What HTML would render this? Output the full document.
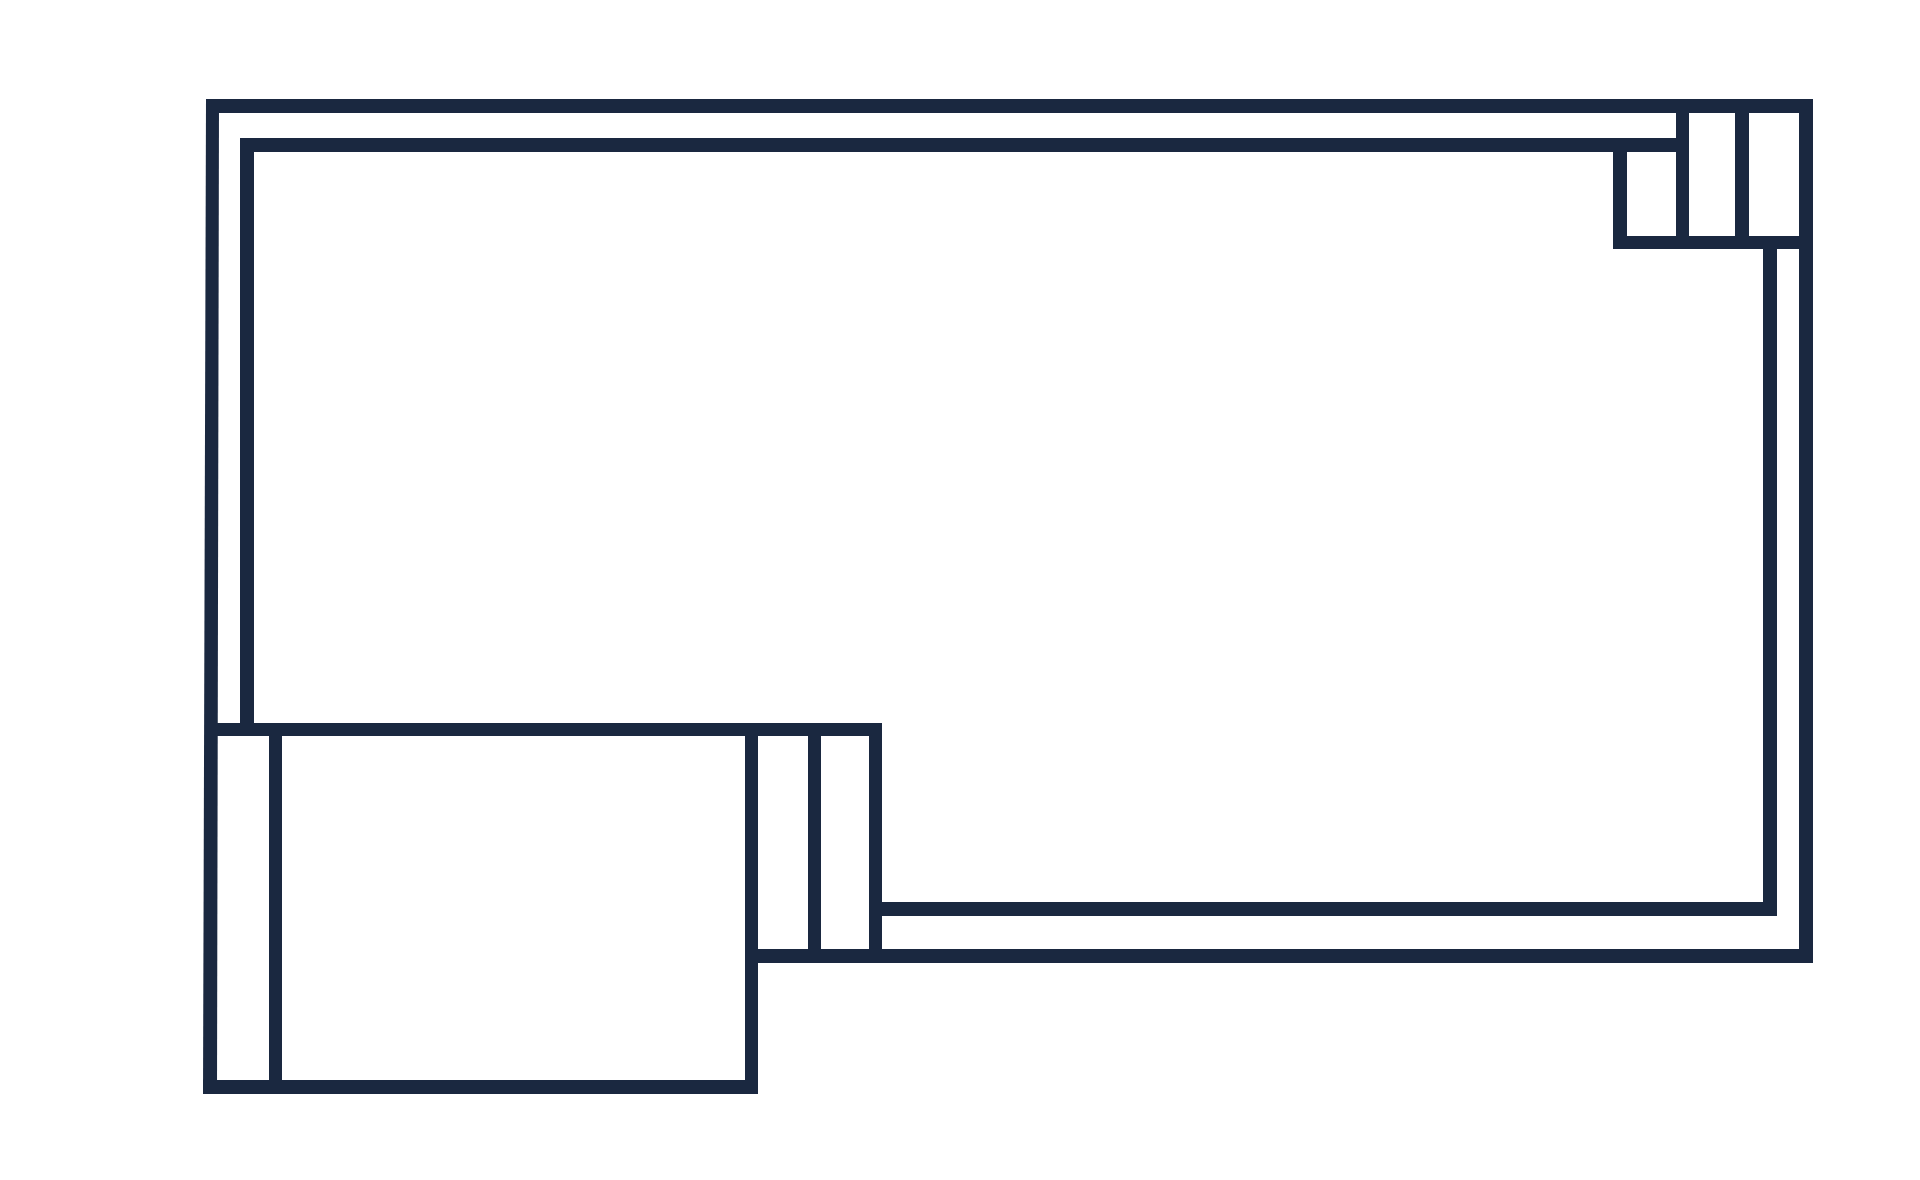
<!DOCTYPE html>
<html><head><meta charset="utf-8"><style>html,body{margin:0;padding:0;background:#fff;}svg{display:block}</style></head>
<body>
<svg width="1920" height="1180" viewBox="0 0 1920 1180" xmlns="http://www.w3.org/2000/svg">
<rect width="1920" height="1180" fill="#fff"/>
<g fill="#1a2840">
<rect x="206" y="99" width="1607" height="14"/>
<rect x="1799" y="99" width="14" height="864"/>
<polygon points="206,99 219,99 217,1094 203,1094"/>
<rect x="240" y="138" width="1449" height="14"/>
<rect x="240" y="138" width="14" height="598"/>
<rect x="1676" y="99" width="13" height="150"/>
<rect x="1735" y="99" width="14" height="150"/>
<rect x="1613" y="138" width="14" height="111"/>
<rect x="1613" y="236" width="200" height="13"/>
<rect x="1763" y="236" width="14" height="680"/>
<rect x="869" y="902" width="908" height="14"/>
<rect x="210" y="723" width="672" height="13"/>
<rect x="869" y="723" width="13" height="240"/>
<rect x="745" y="949" width="1068" height="14"/>
<rect x="745" y="723" width="13" height="371"/>
<rect x="808" y="723" width="13" height="240"/>
<rect x="269" y="723" width="13" height="371"/>
<rect x="203" y="1080" width="555" height="14"/>
</g>
</svg>
</body></html>
